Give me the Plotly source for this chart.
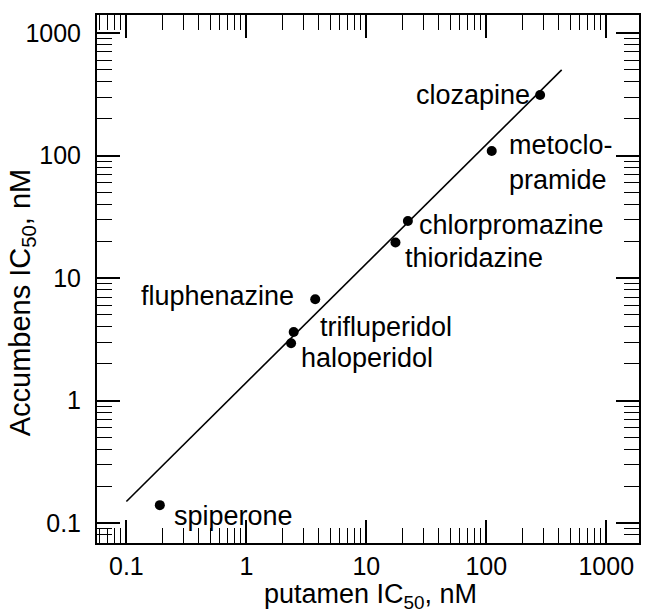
import plotly.graph_objects as go
import math

# ---- data ----
drugs = ["clozapine", "metoclopramide", "chlorpromazine", "thioridazine",
         "fluphenazine", "trifluperidol", "haloperidol", "spiperone"]
putamen_ic50 = [281, 111, 22.2, 17.5, 3.75, 2.48, 2.36, 0.19]
accumbens_ic50 = [312, 109, 29.2, 19.5, 6.7, 3.62, 2.93, 0.14]
fit_x = [0.1, 425]
fit_y = [0.15, 500]
tick_vals = [0.1, 1, 10, 100, 1000]
tick_text = ["0.1", "1", "10", "100", "1000"]

# label placement (style): (displayed text, anchor, xshift, yshift) in px
label_style = {
    "clozapine": ("clozapine", "right", -8, 0),
    "metoclopramide": ("metoclo-<br>pramide", "left", 15, -12),
    "chlorpromazine": ("chlorpromazine", "left", 9, -4),
    "thioridazine": ("thioridazine", "left", 8, -16),
    "fluphenazine": ("fluphenazine", "right", -19, 3),
    "trifluperidol": ("trifluperidol", "left", 24, 5),
    "haloperidol": ("haloperidol", "left", 8, -15),
    "spiperone": ("spiperone", "left", 12, -11),
}

FONT = "Liberation Sans, Arial, Helvetica, sans-serif"

fig = go.Figure()
fig.add_trace(go.Scatter(x=fit_x, y=fit_y, mode="lines",
                         line=dict(color="black", width=1.6),
                         hoverinfo="skip", showlegend=False))
fig.add_trace(go.Scatter(x=putamen_ic50, y=accumbens_ic50, mode="markers",
                         marker=dict(color="black", size=10),
                         text=drugs, showlegend=False))

for name, xv, yv in zip(drugs, putamen_ic50, accumbens_ic50):
    txt, anc, dx, dy = label_style[name]
    fig.add_annotation(x=math.log10(xv), y=math.log10(yv), xref="x", yref="y",
                       text=txt, showarrow=False, xanchor=anc, yanchor="middle",
                       xshift=dx, yshift=dy, align="left",
                       font=dict(family=FONT, size=27, color="black"))

axis_common = dict(
    type="log", showgrid=False, zeroline=False,
    showline=True, linecolor="black", linewidth=2, mirror="ticks",
    ticks="inside", ticklen=23, tickwidth=1.6, tickcolor="black",
    tickmode="array", tickvals=tick_vals, ticktext=tick_text,
    tickfont=dict(family=FONT, size=25, color="black"),
    minor=dict(ticks="inside", ticklen=15, tickwidth=1.4, tickcolor="black",
               dtick="D1", showgrid=False),
)

fig.update_xaxes(range=[-1.245, 3.273], ticklabelstandoff=0, **axis_common)
fig.update_yaxes(range=[-1.163, 3.147], ticklabelstandoff=9, **axis_common)

fig.add_annotation(text="putamen IC<sub>50</sub>, nM", xref="paper", yref="paper",
                   x=0.5055, y=-0.1364, showarrow=False, xanchor="center", yanchor="bottom",
                   font=dict(family=FONT, size=27, color="black"))
fig.add_annotation(text="Accumbens IC<sub>50</sub>, nM", xref="paper", yref="paper",
                   x=-0.1379, y=0.4564, showarrow=False, xanchor="center", yanchor="middle",
                   textangle=-90, font=dict(family=FONT, size=29, color="black"))

fig.update_layout(width=646, height=616, margin=dict(l=97, r=5, t=15, b=73),
                  paper_bgcolor="white", plot_bgcolor="white")

fig.write_html("out.html")
